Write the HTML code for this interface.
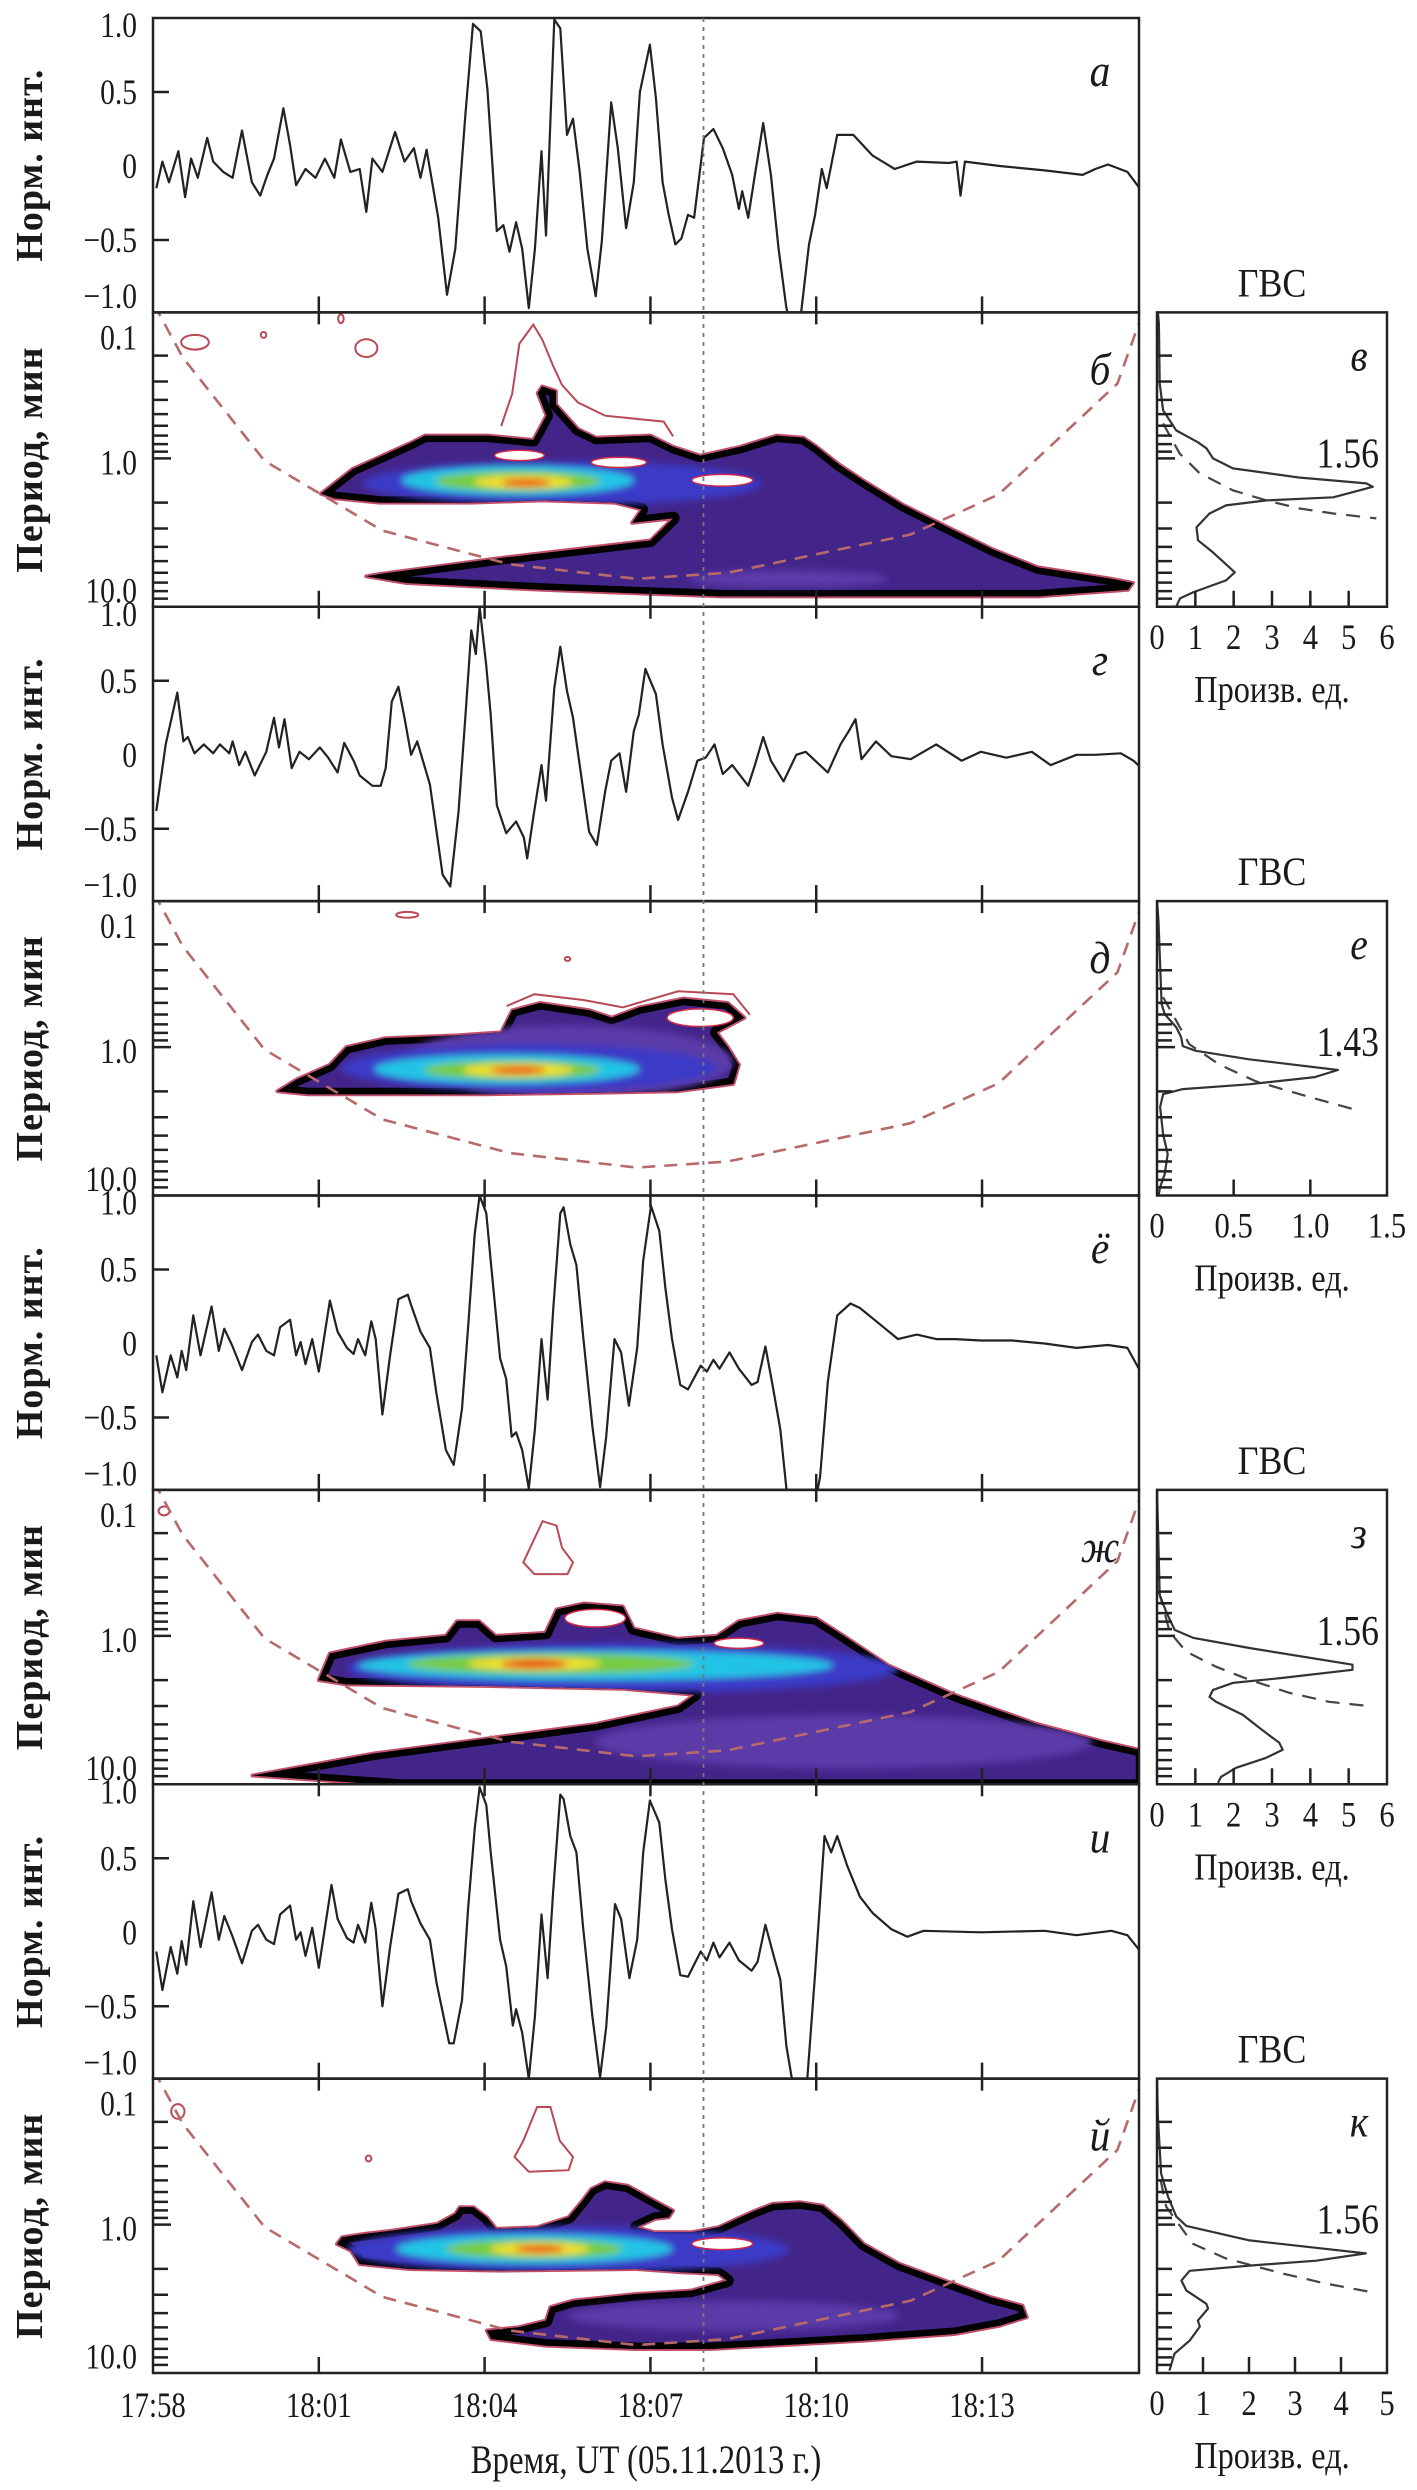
<!DOCTYPE html>
<html><head><meta charset="utf-8"><title>Wavelet figure</title>
<style>
html,body{margin:0;padding:0;background:#fff;}
svg{display:block;}
text{font-family:"Liberation Serif","DejaVu Serif",serif;fill:#1a1a1a;}
</style></head>
<body>
<svg id="fig" width="1417" height="2490" viewBox="0 0 1417 2490" xmlns="http://www.w3.org/2000/svg">
<defs>
<filter id="blur6" x="-20%" y="-50%" width="140%" height="200%"><feGaussianBlur stdDeviation="3.5"/></filter>
</defs>
<rect x="0" y="0" width="1417" height="2490" fill="#fff"/>
</svg>
<script>
// ---------- DATA ----------
const timeTickLabels = ["17:58","18:01","18:04","18:07","18:10","18:13"];
const timeTickValues = [0,3,6,9,12,15];
const timeMax = 17.84;
const markerTime = 9.96;
const normTickValues = [1.0,0.5,0,-0.5,-1.0];
const normTickLabels = ["1.0","0.5","0","\u22120.5","\u22121.0"];
const periodTickLabels = ["0.1","1.0","10.0"];

const tsA_t = [0.06,0.17,0.29,0.46,0.58,0.69,0.81,0.98,1.09,1.27,1.44,1.61,1.79,1.94,2.07,2.19,2.36,2.48,2.59,2.76,2.94,3.11,3.28,3.40,3.57,3.74,3.86,3.97,4.15,4.38,4.55,4.72,4.84,4.95,5.07,5.16,5.32,5.47,5.65,5.79,5.93,6.05,6.22,6.34,6.45,6.57,6.68,6.80,6.91,7.03,7.11,7.26,7.37,7.49,7.60,7.72,7.86,8.01,8.12,8.29,8.41,8.56,8.70,8.81,8.99,9.10,9.22,9.33,9.45,9.56,9.68,9.79,9.97,10.14,10.31,10.48,10.60,10.66,10.77,10.89,11.04,11.18,11.32,11.46,11.58,11.73,11.87,11.98,12.10,12.19,12.38,12.67,13.02,13.42,13.82,14.40,14.54,14.61,14.69,15.32,16.13,16.82,17.05,17.28,17.63,17.91];
const tsA_v = [-0.15,0.03,-0.11,0.10,-0.21,0.05,-0.08,0.19,0.03,-0.04,-0.08,0.24,-0.11,-0.20,-0.06,0.05,0.39,0.14,-0.13,-0.02,-0.08,0.05,-0.08,0.18,-0.04,-0.02,-0.31,0.05,-0.04,0.23,0.03,0.12,-0.08,0.11,-0.15,-0.35,-0.87,-0.56,0.34,0.96,0.91,0.52,-0.44,-0.40,-0.58,-0.38,-0.56,-0.96,-0.56,0.10,-0.47,0.99,0.93,0.21,0.32,-0.04,-0.56,-0.88,-0.51,0.43,0.12,-0.42,-0.11,0.50,0.82,0.46,-0.11,-0.33,-0.53,-0.49,-0.33,-0.35,0.19,0.25,0.12,-0.06,-0.29,-0.17,-0.35,-0.06,0.29,-0.06,-0.56,-0.96,-1.12,-0.98,-0.53,-0.33,-0.02,-0.15,0.21,0.21,0.07,-0.02,0.03,0.02,0.03,-0.20,0.03,0.00,-0.03,-0.06,-0.02,0.01,-0.04,-0.18];

const tsG = [[0.06,-0.38],[0.23,0.07],[0.44,0.42],[0.55,0.09],[0.63,0.12],[0.75,0.01],[0.92,0.07],[1.09,0.01],[1.21,0.07],[1.38,0.01],[1.44,0.09],[1.56,-0.07],[1.67,0.02],[1.84,-0.14],[2.05,0.02],[2.19,0.25],[2.28,0.05],[2.38,0.24],[2.51,-0.09],[2.65,0.02],[2.82,-0.03],[3.02,0.05],[3.17,-0.02],[3.34,-0.12],[3.46,0.08],[3.63,-0.04],[3.74,-0.14],[3.97,-0.21],[4.12,-0.21],[4.21,-0.09],[4.32,0.36],[4.44,0.46],[4.55,0.25],[4.67,0.00],[4.78,0.09],[5.01,-0.20],[5.24,-0.81],[5.38,-0.89],[5.53,-0.38],[5.65,0.25],[5.76,0.84],[5.84,0.68],[5.91,1.00],[6.03,0.60],[6.11,0.27],[6.22,-0.34],[6.39,-0.53],[6.57,-0.45],[6.71,-0.56],[6.77,-0.70],[6.89,-0.40],[7.03,-0.07],[7.11,-0.31],[7.26,0.45],[7.37,0.73],[7.49,0.43],[7.60,0.25],[7.72,-0.07],[7.89,-0.52],[8.03,-0.61],[8.18,-0.25],[8.29,-0.04],[8.44,0.01],[8.56,-0.25],[8.70,0.16],[8.79,0.27],[8.91,0.58],[9.10,0.41],[9.22,0.07],[9.39,-0.29],[9.50,-0.44],[9.68,-0.25],[9.85,-0.04],[10.00,-0.02],[10.16,0.07],[10.31,-0.13],[10.48,-0.07],[10.77,-0.21],[10.89,-0.07],[11.04,0.12],[11.18,-0.04],[11.41,-0.18],[11.64,0.00],[11.81,0.02],[12.21,-0.12],[12.44,0.07],[12.59,0.16],[12.71,0.24],[12.82,-0.03],[13.08,0.09],[13.36,-0.01],[13.71,-0.03],[14.17,0.07],[14.63,-0.04],[14.98,0.02],[15.44,-0.02],[15.90,0.02],[16.24,-0.07],[16.71,0.00],[17.05,0.00],[17.51,0.01],[17.74,-0.04],[17.91,-0.10]];

const tsYo = [[0.06,-0.08],[0.17,-0.33],[0.32,-0.08],[0.44,-0.23],[0.52,-0.05],[0.60,-0.18],[0.73,0.19],[0.86,-0.08],[1.06,0.25],[1.19,-0.05],[1.29,0.10],[1.44,-0.02],[1.61,-0.18],[1.79,0.01],[1.90,0.06],[2.05,-0.05],[2.19,-0.08],[2.30,0.11],[2.48,0.16],[2.59,-0.08],[2.67,0.01],[2.76,-0.14],[2.88,0.03],[3.00,-0.19],[3.20,0.29],[3.34,0.08],[3.51,-0.03],[3.63,-0.07],[3.71,0.03],[3.84,-0.08],[3.95,0.15],[4.03,0.03],[4.15,-0.48],[4.29,-0.08],[4.44,0.30],[4.61,0.33],[4.67,0.26],[4.84,0.08],[5.01,-0.03],[5.13,-0.34],[5.30,-0.72],[5.44,-0.82],[5.59,-0.44],[5.70,0.10],[5.82,0.74],[5.91,1.00],[6.03,0.88],[6.11,0.56],[6.28,-0.10],[6.39,-0.24],[6.49,-0.63],[6.57,-0.60],[6.68,-0.72],[6.80,-0.98],[6.91,-0.58],[7.03,0.03],[7.14,-0.38],[7.24,0.22],[7.37,0.88],[7.43,0.92],[7.55,0.67],[7.66,0.53],[7.78,0.06],[7.95,-0.56],[8.09,-0.97],[8.20,-0.63],[8.35,0.03],[8.47,-0.06],[8.61,-0.42],[8.76,-0.03],[8.87,0.56],[9.01,0.93],[9.16,0.76],[9.27,0.38],[9.39,0.03],[9.54,-0.28],[9.68,-0.31],[9.91,-0.15],[10.02,-0.19],[10.14,-0.11],[10.25,-0.17],[10.43,-0.06],[10.60,-0.17],[10.83,-0.28],[10.94,-0.26],[11.08,-0.02],[11.20,-0.26],[11.35,-0.58],[11.46,-0.98],[11.52,-1.08],[11.98,-1.08],[12.07,-0.90],[12.21,-0.26],[12.38,0.19],[12.62,0.27],[12.79,0.24],[13.02,0.17],[13.25,0.10],[13.48,0.03],[13.82,0.06],[14.17,0.03],[14.52,0.03],[14.98,0.02],[15.55,0.02],[16.13,0.00],[16.71,-0.03],[17.28,-0.01],[17.63,-0.03],[17.91,-0.22]];

const tsI = [[0.06,-0.13],[0.17,-0.39],[0.32,-0.10],[0.44,-0.28],[0.52,-0.06],[0.60,-0.22],[0.73,0.21],[0.86,-0.10],[1.06,0.27],[1.19,-0.05],[1.29,0.11],[1.44,-0.03],[1.61,-0.21],[1.79,0.01],[1.90,0.05],[2.05,-0.05],[2.19,-0.08],[2.30,0.12],[2.48,0.18],[2.59,-0.05],[2.67,0.00],[2.76,-0.16],[2.88,0.03],[3.00,-0.24],[3.23,0.32],[3.34,0.09],[3.51,-0.04],[3.63,-0.07],[3.71,0.05],[3.84,-0.07],[3.95,0.20],[4.03,0.02],[4.15,-0.50],[4.29,-0.10],[4.44,0.26],[4.61,0.29],[4.67,0.21],[4.84,0.06],[5.01,-0.05],[5.13,-0.34],[5.36,-0.75],[5.44,-0.75],[5.59,-0.46],[5.70,0.15],[5.82,0.70],[5.91,0.98],[6.03,0.86],[6.11,0.54],[6.28,-0.05],[6.39,-0.23],[6.51,-0.63],[6.57,-0.52],[6.68,-0.68],[6.80,-0.99],[6.91,-0.57],[7.03,0.12],[7.14,-0.31],[7.24,0.27],[7.37,0.93],[7.43,0.90],[7.55,0.65],[7.66,0.54],[7.78,0.04],[7.95,-0.57],[8.09,-0.98],[8.20,-0.64],[8.36,0.19],[8.47,0.09],[8.62,-0.31],[8.76,-0.05],[8.87,0.54],[8.99,0.89],[9.16,0.74],[9.27,0.36],[9.39,0.02],[9.54,-0.29],[9.68,-0.30],[9.91,-0.13],[10.02,-0.19],[10.14,-0.07],[10.25,-0.17],[10.43,-0.07],[10.60,-0.19],[10.83,-0.26],[10.94,-0.20],[11.08,0.05],[11.23,-0.16],[11.35,-0.32],[11.46,-0.77],[11.56,-0.99],[11.69,-1.09],[11.84,-0.98],[11.98,-0.28],[12.15,0.65],[12.27,0.54],[12.38,0.65],[12.56,0.45],[12.79,0.24],[13.02,0.13],[13.36,0.02],[13.65,-0.03],[13.94,0.01],[14.98,0.00],[16.13,0.01],[16.71,-0.02],[17.34,0.01],[17.63,-0.02],[17.91,-0.15]];

const gwsV_solid = [[0.1,0.02],[0.121,0.05],[0.309,0.07],[0.471,0.16],[0.645,0.5],[0.778,1.07],[0.855,1.29],[1.0,1.46],[1.17,1.98],[1.35,3.7],[1.48,5.46],[1.56,5.63],[1.84,4.6],[1.93,2.85],[2.09,1.8],[2.37,1.37],[2.94,1.03],[3.61,1.07],[4.36,1.46],[5.96,2.03],[6.76,1.8],[8.16,0.94],[8.96,0.6],[10.2,0.5]];
const gwsV_dash = [[0.578,0.16],[0.925,0.59],[1.26,1.11],[1.65,1.98],[1.93,2.85],[2.19,3.7],[2.37,4.6],[2.56,5.72]];
const gwsE_solid = [[0.1,0.0],[0.139,0.01],[0.509,0.03],[0.597,0.05],[0.731,0.125],[0.855,0.157],[0.984,0.168],[1.06,0.254],[1.21,0.6],[1.43,1.18],[1.60,1.03],[1.79,0.6],[1.93,0.168],[2.09,0.04],[2.56,0.02],[3.91,0.04],[5.34,0.07],[7.31,0.05],[8.96,0.02],[10.3,0.01]];
const gwsE_dash = [[0.457,0.04],[0.954,0.21],[1.31,0.405],[1.70,0.64],[1.99,0.86],[2.33,1.09],[2.73,1.33]];
const gwsZ_solid = [[0.1,0.0],[0.206,0.03],[0.526,0.07],[0.687,0.24],[0.910,0.46],[1.03,0.94],[1.21,2.41],[1.57,5.1],[1.70,5.1],[1.93,3.28],[2.09,1.98],[2.33,1.46],[2.60,1.37],[2.81,1.54],[3.45,2.24],[4.22,2.67],[5.34,3.19],[5.96,3.28],[6.76,2.84],[7.90,2.06],[9.10,1.67],[10.0,1.59]];
const gwsZ_dash = [[0.5,0.05],[0.939,0.33],[1.28,0.76],[1.62,1.54],[1.99,2.41],[2.44,3.45],[2.81,4.49],[2.99,5.45]];
const gwsK_solid = [[0.1,0.0],[0.184,0.02],[0.450,0.09],[0.645,0.24],[0.882,0.42],[1.02,0.64],[1.28,2.01],[1.57,4.54],[1.76,3.46],[1.90,2.01],[2.06,0.71],[2.40,0.53],[2.81,0.64],[3.45,1.07],[3.72,1.11],[4.50,0.89],[4.94,0.93],[6.15,0.71],[7.55,0.38],[9.84,0.27]];
const gwsK_dash = [[0.5,0.08],[0.755,0.2],[1.35,0.78],[1.70,1.5],[2.15,2.73],[2.52,3.67],[2.86,4.61]];
const gwsPeakLabels = ["1.56","1.43","1.56","1.56"];
const gwsTickLabelsV = ["0","1","2","3","4","5","6"];
const gwsTickLabelsE = ["0","0.5","1.0","1.5"];
const gwsTickLabelsZ = ["0","1","2","3","4","5","6"];
const gwsTickLabelsK = ["0","1","2","3","4","5"];

const coiPoints = [[0.02,0.09],[0.54,0.206],[2.02,1.04],[4.15,3.1],[6.45,5.25],[8.75,6.6],[10.4,6.0],[13.7,3.3],[15.3,1.76],[17.45,0.31],[17.84,0.12]];

const wavB_outline = [[3.04,0.24],[3.61,0.073],[4.68,-0.109],[4.92,-0.155],[6.06,-0.155],[6.88,-0.125],[7.12,-0.292],[6.96,-0.444],[7.04,-0.489],[7.29,-0.459],[7.29,-0.368],[7.69,-0.2],[8.02,-0.14],[9.0,-0.155],[9.41,-0.079],[9.9,-0.018],[10.63,-0.079],[11.28,-0.155],[11.77,-0.14],[12.01,-0.079],[12.42,0.043],[12.91,0.164],[13.57,0.316],[14.38,0.468],[15.2,0.62],[16.01,0.742],[17.32,0.818],[17.73,0.848],[17.64,0.894],[16.01,0.939],[13.57,0.939],[10.3,0.939],[7.04,0.894],[4.59,0.848],[3.86,0.802],[4.1,0.787],[6.22,0.681],[9.0,0.559],[9.41,0.407],[8.67,0.438],[8.84,0.347],[8.35,0.301],[7.04,0.286],[5.74,0.301],[4.1,0.301],[3.29,0.271]];
const wavD_outline = [[2.25,0.30],[2.6,0.22],[3.2,0.12],[3.5,0.0],[4.2,-0.06],[5.5,-0.08],[6.3,-0.1],[6.5,-0.25],[7.0,-0.3],[7.9,-0.25],[8.3,-0.2],[8.8,-0.27],[9.6,-0.33],[10.4,-0.3],[10.7,-0.2],[10.2,-0.1],[10.4,0.0],[10.6,0.12],[10.5,0.25],[9.5,0.3],[8.0,0.31],[6.0,0.32],[4.0,0.32],[2.8,0.32]];
const wavZh_outline = [[3.0,0.3],[3.2,0.12],[4.2,0.04],[5.3,0.0],[5.5,-0.1],[5.9,-0.1],[6.2,0.0],[7.1,-0.02],[7.3,-0.18],[7.8,-0.22],[8.5,-0.2],[8.7,-0.05],[9.5,0.02],[10.2,0.0],[10.6,-0.1],[11.3,-0.15],[12.0,-0.12],[12.5,0.0],[13.3,0.2],[14.5,0.4],[16.0,0.6],[17.2,0.72],[17.9,0.78],[17.9,1.02],[4.5,1.02],[1.8,0.95],[4.0,0.8],[6.0,0.7],[8.0,0.6],[9.5,0.48],[9.8,0.4],[8.5,0.36],[6.0,0.34],[3.5,0.33]];
const wavJ_outline = [[3.42,0.086],[3.83,0.063],[4.32,0.041],[5.14,-0.005],[5.47,-0.073],[5.55,-0.118],[5.8,-0.118],[6.04,-0.05],[6.21,0.029],[6.95,0.018],[7.52,-0.05],[7.77,-0.163],[7.93,-0.243],[8.18,-0.288],[8.59,-0.265],[9.08,-0.163],[9.41,-0.095],[9.33,-0.05],[9.08,-0.039],[8.75,0.018],[9.08,0.052],[9.74,0.052],[10.23,0.018],[10.56,-0.039],[10.89,-0.095],[11.21,-0.141],[11.71,-0.152],[12.12,-0.129],[12.45,-0.027],[12.86,0.132],[13.51,0.268],[14.33,0.381],[15.16,0.494],[15.73,0.551],[15.81,0.63],[15.32,0.687],[14.5,0.744],[12.86,0.789],[11.21,0.823],[10.07,0.846],[8.75,0.846],[7.11,0.823],[6.12,0.778],[6.04,0.721],[6.62,0.698],[7.11,0.653],[7.19,0.562],[7.6,0.517],[8.75,0.472],[9.74,0.449],[10.39,0.381],[10.23,0.336],[9.57,0.324],[8.75,0.302],[6.29,0.313],[4.65,0.302],[3.74,0.268],[3.58,0.177],[3.33,0.132]];

const wavB_levels = [[11.5,0.82,1.8,0.06],[7.4,0.17,3.6,0.15],[6.6,0.15,2.1,0.1],[6.6,0.155,1.5,0.068],[6.7,0.16,0.9,0.045],[6.75,0.165,0.45,0.025]];
const wavD_levels = [[7.5,0.1,3.0,0.25],[6.8,0.14,3.4,0.16],[6.4,0.15,2.4,0.1],[6.5,0.155,1.6,0.065],[6.6,0.156,1.0,0.045],[6.6,0.156,0.5,0.025]];
const wavZh_levels = [[12.5,0.72,4.5,0.18],[8.5,0.22,5.0,0.17],[8.0,0.2,4.3,0.1],[7.2,0.19,2.6,0.07],[6.9,0.19,1.2,0.045],[6.9,0.19,0.6,0.03]];
const wavJ_levels = [[10.5,0.62,3.0,0.1],[7.5,0.17,4.0,0.16],[6.9,0.165,2.5,0.1],[6.9,0.166,1.6,0.065],[7.0,0.166,0.9,0.045],[7.0,0.166,0.45,0.025]];
const levelColors = ["#5a3aa8","#3a3ac8","#22c4e6","#78cc40","#f0e030","#ee3a1e"];

const wavB_holes = [[6.63,-0.02,0.45,0.035],[8.43,0.027,0.5,0.035],[10.3,0.149,0.55,0.04]];
const wavD_holes = [[9.9,-0.2,0.6,0.06]];
const wavZh_holes = [[8.0,-0.12,0.55,0.06],[10.6,0.05,0.45,0.035]];
const wavJ_holes = [[10.3,0.13,0.55,0.04]];

const wavB_contour = [[6.3,-0.22],[6.5,-0.44],[6.63,-0.78],[6.88,-0.91],[7.04,-0.81],[7.24,-0.63],[7.4,-0.5],[7.69,-0.38],[8.18,-0.29],[9.24,-0.25],[9.41,-0.15]];
const wavD_contour = [[6.4,-0.28],[6.9,-0.36],[7.8,-0.32],[8.5,-0.27],[9.5,-0.38],[10.5,-0.36],[10.8,-0.22]];
const wavZh_contour = [[6.7,-0.5],[6.85,-0.62],[7.05,-0.78],[7.3,-0.75],[7.4,-0.6],[7.6,-0.5],[7.5,-0.42],[6.9,-0.42],[6.7,-0.5]];
const wavJ_contour = [[6.54,-0.46],[6.7,-0.57],[6.95,-0.8],[7.19,-0.8],[7.36,-0.57],[7.6,-0.46],[7.52,-0.37],[6.8,-0.36],[6.54,-0.46]];
const wavB_islands = [[0.76,-0.79,0.25,0.05],[3.86,-0.75,0.2,0.06],[2.0,-0.84,0.05,0.02],[3.4,-0.95,0.05,0.03]];
const wavD_islands = [[4.6,-0.9,0.2,0.02],[7.5,-0.6,0.05,0.012]];
const wavZh_islands = [[0.2,-0.85,0.1,0.03]];
const wavJ_islands = [[0.45,-0.77,0.12,0.05],[3.9,-0.45,0.05,0.02]];

// ---------- LAYOUT ----------
const NS = "http://www.w3.org/2000/svg";
const svg = document.getElementById("fig");
const PL = 153, PR = 1139, PH = 294.375, P0 = 18;
const BL = 1157, BR = 1387;
function panelTop(k){ return P0 + k*PH; }
function X(t){ return PL + t*(PR-PL)/timeMax; }
function Yv(top,v){ return top + 148 - v*148; }
function Yp(top,lp){ return top + 146 + 147*lp; }
function mk(tag, attrs, parent){
  const e = document.createElementNS(NS, tag);
  for (const k in attrs) e.setAttribute(k, attrs[k]);
  (parent||svg).appendChild(e);
  return e;
}
function txt(x,y,s,size,anchor,sx,extra,parent){
  const e = mk("text",{transform:"translate("+x+","+y+") scale("+sx+",1)","font-size":size,"text-anchor":anchor},parent);
  if (extra) for (const k in extra) e.setAttribute(k, extra[k]);
  e.textContent = s;
  return e;
}
let clipId = 0;
function clipRect(x,y,w,h){
  const id = "c"+(clipId++);
  const cp = mk("clipPath",{id:id});
  mk("rect",{x:x,y:y,width:w,height:h},cp);
  return "url(#"+id+")";
}
function pathFrom(pts){ return pts.map((p,i)=>(i?"L":"M")+p[0].toFixed(1)+" "+p[1].toFixed(1)).join(" "); }

function tsPanel(k, pts, name, letter){
  const top = panelTop(k);
  const g = mk("g",{});
  
  
  const line = mk("path",{d:pathFrom(pts.map(p=>[X(p[0]),Yv(top,p[1])])),fill:"none",stroke:"#222","stroke-width":2.2,"stroke-linejoin":"round","clip-path":clipRect(PL,top,PR-PL,PH)},g);
  
  
  [0.5,-0.5].forEach(v=>{ mk("line",{x1:PL,x2:PL+16,y1:Yv(top,v),y2:Yv(top,v),stroke:"#222","stroke-width":2.5},g); });
  const lblY = [top+19, Yv(top,0.5)+12, Yv(top,0)+12, Yv(top,-0.5)+12, top+290];
  normTickValues.forEach((v,i)=>{
    const t = txt(137, lblY[i], normTickLabels[i], 36, "end", 0.82, null, g);
    
    
  });
  const yl = txt(0,0,"Норм. инт.",38,"middle",1,{"font-weight":"bold","letter-spacing":"1"},g);
  yl.setAttribute("transform","translate(42,"+(top+PH/2)+") rotate(-90)");
  
  
  const pl = txt(1100, top+68, letter, 46, "middle", 0.9, {"font-style":"italic"}, g);
  
  
}

function wavPanel(k, outline, levels, holes, contour, islands, name, letter, contourClosed){
  const top = panelTop(k);
  const g = mk("g",{"clip-path":clipRect(PL,top,PR-PL,PH)});
  
  
  const op = outline.map(p=>[X(p[0]),Yp(top,p[1])]);
  const d = pathFrom(op)+" Z";
  const rim = mk("path",{d:d,fill:"none",stroke:"#c2506a","stroke-width":4,"stroke-linejoin":"round"},g);
  
  
  const blob = mk("path",{d:d,fill:"#000"},g);
  
  
  const cid = "w"+(clipId++);
  const cp = mk("clipPath",{id:cid}); mk("path",{d:d},cp);
  const inner = mk("g",{"clip-path":"url(#"+cid+")"},g);
  mk("path",{d:d,fill:"#43258a",stroke:"#000","stroke-width":13,"stroke-linejoin":"round"},inner);
  const lv = mk("g",{filter:"url(#blur6)"},inner);
  levels.forEach((L,i)=>{
    const e = mk("ellipse",{cx:X(L[0]),cy:Yp(top,L[1]),rx:L[2]*(PR-PL)/timeMax,ry:L[3]*147,fill:levelColors[i]},lv);
    
    
  });
  holes.forEach(h=>{
    const e = mk("ellipse",{cx:X(h[0]),cy:Yp(top,h[1]),rx:h[2]*(PR-PL)/timeMax,ry:h[3]*147,fill:"#fff",stroke:"#d02848","stroke-width":1.5},g);
    
    
  });
  const c = mk("path",{d:pathFrom(contour.map(p=>[X(p[0]),Yp(top,p[1])]))+(contourClosed?" Z":""),fill:"none",stroke:"#b84a55","stroke-width":2},g);
  
  
  islands.forEach(s=>{
    const e = mk("ellipse",{cx:X(s[0]),cy:Yp(top,s[1]),rx:Math.max(2,s[2]*(PR-PL)/timeMax),ry:Math.max(2,s[3]*147),fill:"none",stroke:"#b84a55","stroke-width":2},g);
    
    
  });
  const coi = mk("path",{d:pathFrom(coiPoints.map(p=>[X(p[0]),Yp(top,Math.log10(p[1]))])),fill:"none",stroke:"#b86a6a","stroke-width":2.6,"stroke-dasharray":"13 9"},g);
  
  
  logTicks(PL, top, 1);
  const lblY = [top+37, top+162, top+290];
  periodTickLabels.forEach((s,i)=>{
    const t = txt(137, lblY[i], s, 36, "end", 0.82);
    
    
  });
  const yl = txt(0,0,"Период, мин",38,"middle",1,{"font-weight":"bold","letter-spacing":"1"});
  yl.setAttribute("transform","translate(42,"+(top+PH/2)+") rotate(-90)");
  
  
  const pl = txt(1100, top+72, letter, 46, "middle", 0.9, {"font-style":"italic"});
  
  
}
function logTicks(x0, top, dir){
  for (let dec=-1; dec<=0; dec++){
    for (let m=2; m<=9; m++){
      const lp = dec + Math.log10(m);
      const y = Yp(top, lp);
      mk("line",{x1:x0,x2:x0+15*dir,y1:y,y2:y,stroke:"#222","stroke-width":2.5});
    }
  }
  mk("line",{x1:x0,x2:x0+18*dir,y1:Yp(top,0),y2:Yp(top,0),stroke:"#222","stroke-width":2.5});
}

function gwsPanel(k, solid, dash, maxP, tickLabels, peak, letter, name){
  const top = panelTop(k);
  const gx = p => BL + p*(BR-BL)/maxP;
  const g = mk("g",{"clip-path":clipRect(BL,top,BR-BL,PH)});
  
  
  const ds = mk("path",{d:pathFrom(dash.map(p=>[gx(p[1]),Yp(top,Math.log10(p[0]))])),fill:"none",stroke:"#444","stroke-width":2.2,"stroke-dasharray":"14 10"},g);
  
  
  const sl = mk("path",{d:pathFrom(solid.map(p=>[gx(p[1]),Yp(top,Math.log10(p[0]))])),fill:"none",stroke:"#333","stroke-width":2.2,"stroke-linejoin":"round"},g);
  
  
  mk("rect",{x:BL,y:top,width:BR-BL,height:PH,fill:"none",stroke:"#222","stroke-width":2.5});
  logTicks(BL, top, 1);
  const n = tickLabels.length;
  tickLabels.forEach((s,i)=>{
    const v = i*maxP/(n-1);
    const x = gx(v);
    if (i>0 && i<n-1) mk("line",{x1:x,x2:x,y1:top+PH,y2:top+PH-16,stroke:"#222","stroke-width":2.5});
    const t = txt(x, top+PH+42, s, 36, "middle", 0.85);
    
    
  });
  const xt = txt((BL+BR)/2, top+PH+95, "Произв. ед.", 38, "middle", 0.85);
  
  
  const tt = txt((BL+BR)/2, top-16, "ГВС", 40, "middle", 0.9);
  
  
  const pk = txt(BR-8, top+155, peak, 42, "end", 0.85);
  
  
  const pl = txt(BR-28, top+58, letter, 44, "middle", 0.9, {"font-style":"italic"});
  
  
}

tsPanel(0, tsA_t.map((t,i)=>[t,tsA_v[i]]), "timeseries-a", "а");
wavPanel(1, wavB_outline, wavB_levels, wavB_holes, wavB_contour, wavB_islands, "wavelet-b", "б", false);
tsPanel(2, tsG, "timeseries-g", "г");
wavPanel(3, wavD_outline, wavD_levels, wavD_holes, wavD_contour, wavD_islands, "wavelet-d", "д", false);
tsPanel(4, tsYo, "timeseries-yo", "ё");
wavPanel(5, wavZh_outline, wavZh_levels, wavZh_holes, wavZh_contour, wavZh_islands, "wavelet-zh", "ж", true);
tsPanel(6, tsI, "timeseries-i", "и");
wavPanel(7, wavJ_outline, wavJ_levels, wavJ_holes, wavJ_contour, wavJ_islands, "wavelet-j", "й", true);

gwsPanel(1, gwsV_solid, gwsV_dash, 6, gwsTickLabelsV, gwsPeakLabels[0], "в", "gws-v");
gwsPanel(3, gwsE_solid, gwsE_dash, 1.5, gwsTickLabelsE, gwsPeakLabels[1], "е", "gws-e");
gwsPanel(5, gwsZ_solid, gwsZ_dash, 6, gwsTickLabelsZ, gwsPeakLabels[2], "з", "gws-z");
gwsPanel(7, gwsK_solid, gwsK_dash, 5, gwsTickLabelsK, gwsPeakLabels[3], "к", "gws-k");

for (let k=0;k<8;k++){
  const top = panelTop(k);
  const fr = mk("rect",{x:PL,y:top,width:PR-PL,height:PH,fill:"none",stroke:"#222","stroke-width":2.5});
  
  
  timeTickValues.forEach((tv,i)=>{
    if (i===0) return;
    const x = X(tv);
    mk("line",{x1:x,x2:x,y1:top+PH,y2:top+PH-16,stroke:"#222","stroke-width":2.5});
    if (k>0) mk("line",{x1:x,x2:x,y1:top,y2:top+12,stroke:"#222","stroke-width":2.5});
  });
}
const mkr = mk("line",{x1:X(markerTime),x2:X(markerTime),y1:P0,y2:panelTop(8),stroke:"#777","stroke-width":1.8,"stroke-dasharray":"4 5"});



timeTickValues.forEach((tv,i)=>{
  const t = txt(X(tv), panelTop(8)+44, timeTickLabels[i], 36, "middle", 0.8);
  
  
});
const xTitle = txt((PL+PR)/2, 2473, "Время, UT (05.11.2013 г.)", 40, "middle", 0.82);


</script>
</body></html>
